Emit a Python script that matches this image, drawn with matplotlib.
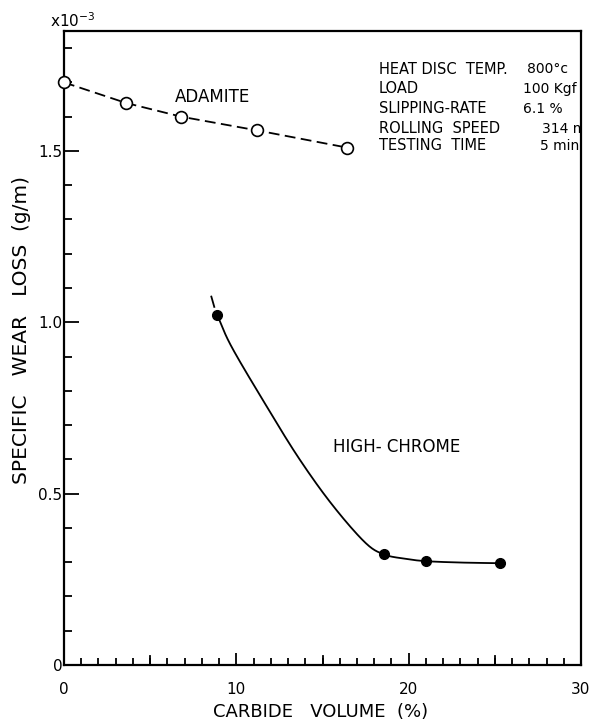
import matplotlib
matplotlib.use("Agg")
import numpy as np
import matplotlib.pyplot as plt
from matplotlib.ticker import MultipleLocator

# ---- data (wear loss in units of 1e-3 g/m) ----
adamite_x = [0.0, 3.6, 6.8, 11.2, 16.4]
adamite_y = [1.70, 1.64, 1.60, 1.56, 1.51]

chrome_x = [8.9, 18.55, 21.0, 25.3]
chrome_y = [1.02, 0.323, 0.303, 0.297]

# traced fitted curve through the high-chrome points
chrome_curve_x = [8.9, 9.73, 11.66, 13.58, 15.51, 17.44, 18.55, 19.8, 21.0, 23.0, 25.3]
chrome_curve_y = [1.02, 0.928, 0.763, 0.607, 0.471, 0.359, 0.323, 0.310, 0.303, 0.299, 0.297]
# short dashed extension above first point
chrome_ext_x = [8.55, 8.72]
chrome_ext_y = [1.075, 1.045]

x_ticks = [0, 10, 20, 30]
y_ticks = [0, 0.5, 1.0, 1.5]
y_tick_labels = ["0", "0.5", "1.0", "1.5"]

info_left = ["HEAT DISC  TEMP.", "LOAD", "SLIPPING-RATE", "ROLLING  SPEED", "TESTING  TIME"]
info_right = ["800°c", "100 Kgf", "6.1 %", "314 m/min", "5 min"]


def smooth(xs, ys, n=20):
    """Catmull-Rom rendering of a traced curve (drawing only)."""
    p = np.column_stack([xs, ys]).astype(float)
    p = np.vstack([p[0] * 2 - p[1], p, p[-1] * 2 - p[-2]])
    out = []
    t = np.linspace(0, 1, n, endpoint=False)[:, None]
    for i in range(1, len(p) - 2):
        p0, p1, p2, p3 = p[i - 1], p[i], p[i + 1], p[i + 2]
        seg = 0.5 * ((2 * p1) + (-p0 + p2) * t + (2 * p0 - 5 * p1 + 4 * p2 - p3) * t ** 2
                     + (-p0 + 3 * p1 - 3 * p2 + p3) * t ** 3)
        out.append(seg)
    out.append(p[-2][None, :])
    out = np.vstack(out)
    return out[:, 0], out[:, 1]


plt.rcParams['font.family'] = ['DejaVu Sans']

fig = plt.figure(figsize=(5.93, 7.22), dpi=100)
ax = fig.add_axes([64/593, 1-665/722, (581-64)/593, (665-31)/722])

ax.set_xlim(0, 30)
ax.set_ylim(0, 1.85)

ax.plot(adamite_x, adamite_y, color='black', lw=1.3, ls=(0, (6, 3)),
        marker='o', ms=8.5, mfc='white', mec='black', mew=1.2, clip_on=False, zorder=3)

sx, sy = smooth(chrome_curve_x, chrome_curve_y)
ax.plot(sx, sy, color='black', lw=1.3, zorder=2)
ax.plot(chrome_ext_x, chrome_ext_y, color='black', lw=1.3, zorder=2)
ax.plot(chrome_x, chrome_y, ls='none', marker='o', ms=7, mfc='black', mec='black', zorder=3)

ax.text(8.6, 1.656, "ADAMITE", fontsize=12, ha='center', va='center')
ax.text(19.3, 0.636, "HIGH- CHROME", fontsize=12, ha='center', va='center')

ys = [0.940, 0.909, 0.877, 0.847, 0.819]
xr = [(0.896, 'left'), (0.992, 'right'), (0.888, 'left'), (0.925, 'left'), (0.921, 'left')]
for t, y in zip(info_left, ys):
    ax.text(0.609, y, t, transform=ax.transAxes, fontsize=10.5, ha='left', va='center')
for t, y, (x, ha) in zip(info_right, ys, xr):
    ax.text(x, y, t, transform=ax.transAxes, fontsize=10, ha=ha, va='center', clip_on=True)

ax.set_xticks(x_ticks)
ax.set_yticks(y_ticks)
ax.set_yticklabels(y_tick_labels)
ax.xaxis.set_minor_locator(MultipleLocator(1))
ax.yaxis.set_minor_locator(MultipleLocator(0.1))

ax.tick_params(axis='both', which='both', direction='in', top=False, right=False,
               labelsize=11, width=1.3, color='black')
ax.tick_params(axis='y', which='major', length=11, pad=1)
ax.tick_params(axis='y', which='minor', length=6)
ax.tick_params(axis='x', which='major', length=9, pad=12)
ax.tick_params(axis='x', which='minor', length=5)

# longer ticks at 5-unit marks on x axis
for xv in [5, 15, 25]:
    ax.plot([xv, xv], [0, 0.027], color='black', lw=1.3, clip_on=False)

for s in ax.spines.values():
    s.set_linewidth(1.6)

fig.text(73/593, 1-21/722, "x10$^{-3}$", fontsize=11, ha='center', va='center')
fig.text(22/593, 1-330/722, "SPECIFIC   WEAR   LOSS  (g/m)", fontsize=14.5,
         rotation=90, ha='center', va='center')
fig.text(321/593, 1-712/722, "CARBIDE   VOLUME  (%)", fontsize=13, ha='center', va='center')

fig.savefig("out.png", dpi=100)
